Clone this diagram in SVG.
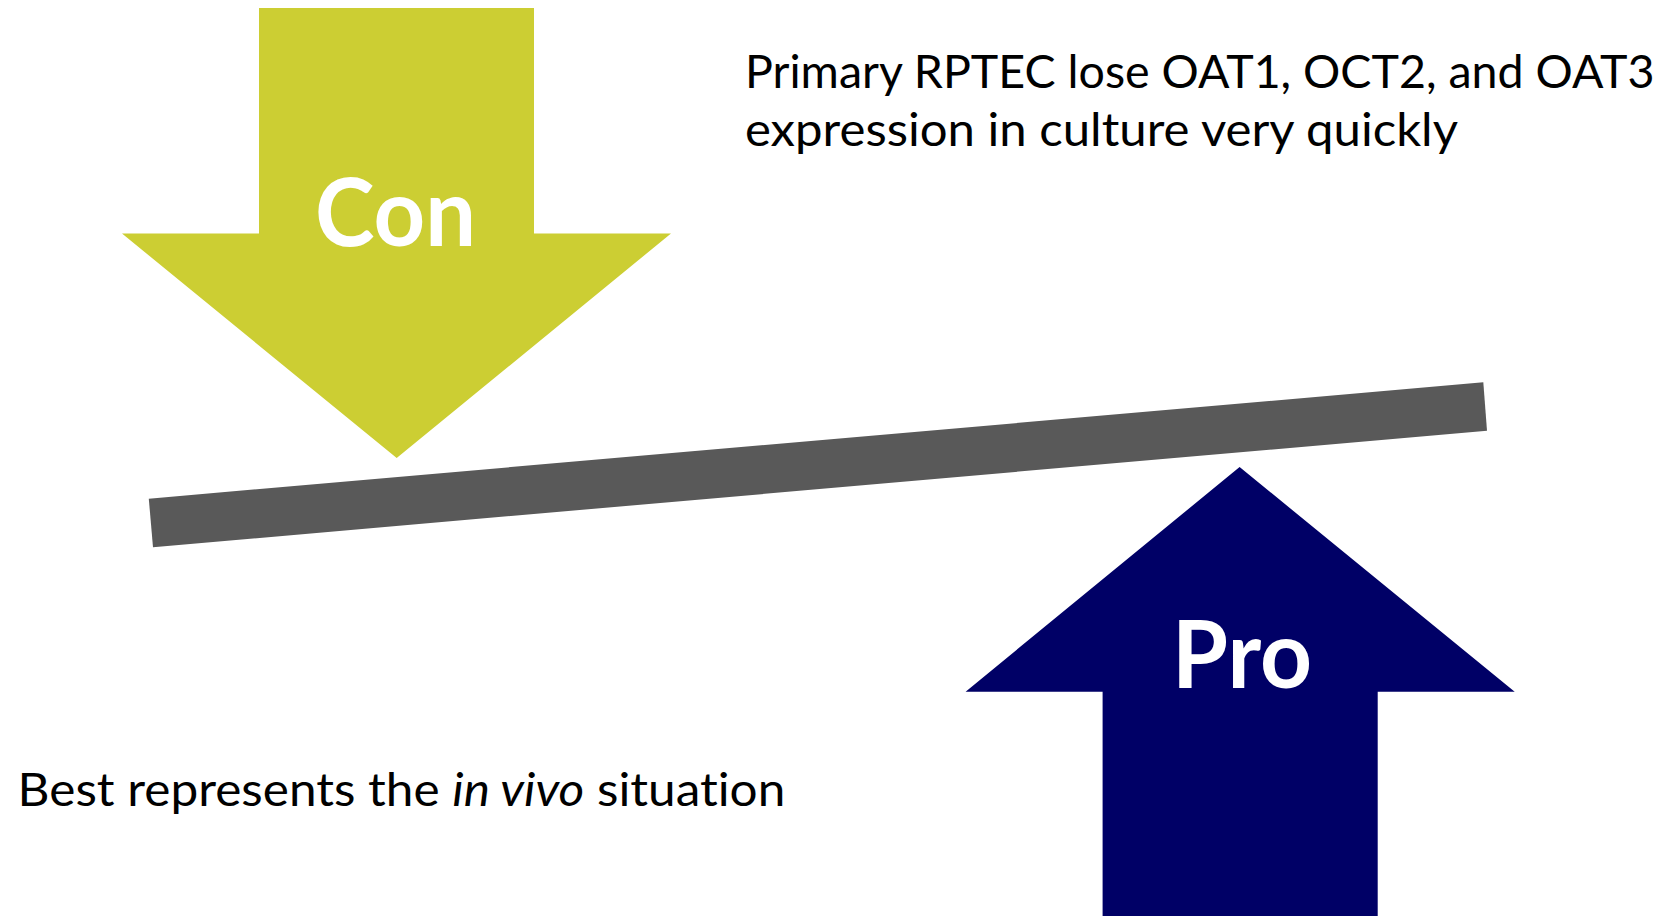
<svg xmlns="http://www.w3.org/2000/svg" width="1672" height="916" viewBox="0 0 1672 916">
  <style>
    .lbl { font-family: Lato, "Open Sans", "Liberation Sans", sans-serif; font-weight: 700; font-size: 93px; fill: #ffffff; text-anchor: middle; }
    .txt { font-family: Lato, "Open Sans", "Liberation Sans", sans-serif; font-size: 46px; fill: #000000; font-variant-ligatures: none; }
  </style>
  <rect x="0" y="0" width="1672" height="916" fill="#ffffff"/>
  <g id="beam">
    <polygon points="148.8,498.7 1483.3,382.3 1487,430.7 153,547.3" fill="#595959"/>
  </g>
  <g id="con">
    <polygon points="259,8 534,8 534,233.5 671,233.5 396.7,458 122,233.5 259,233.5" fill="#CCCE33"/>
    <text class="lbl" x="395.5" y="246" textLength="161" lengthAdjust="spacingAndGlyphs">Con</text>
  </g>
  <g id="pro">
    <polygon points="1239.6,467 1514.7,691.7 1377.7,691.7 1377.7,916 1102.6,916 1102.6,691.7 965.6,691.7" fill="#000066"/>
    <text class="lbl" x="1242" y="688" textLength="140" lengthAdjust="spacingAndGlyphs">Pro</text>
  </g>
  <g id="con-text">
    <text class="txt" x="745" y="88.3" textLength="909.6" lengthAdjust="spacingAndGlyphs">Primary RPTEC lose OAT1, OCT2, and OAT3</text>
    <text class="txt" x="745" y="145.7" textLength="713" lengthAdjust="spacingAndGlyphs">expression in culture very quickly</text>
  </g>
  <g id="pro-text">
    <text class="txt" x="17.6" y="805.7" textLength="767.7" lengthAdjust="spacingAndGlyphs">Best represents the <tspan font-style="italic">in vivo</tspan> situation</text>
  </g>
  <g id="connectors"></g>
</svg>
